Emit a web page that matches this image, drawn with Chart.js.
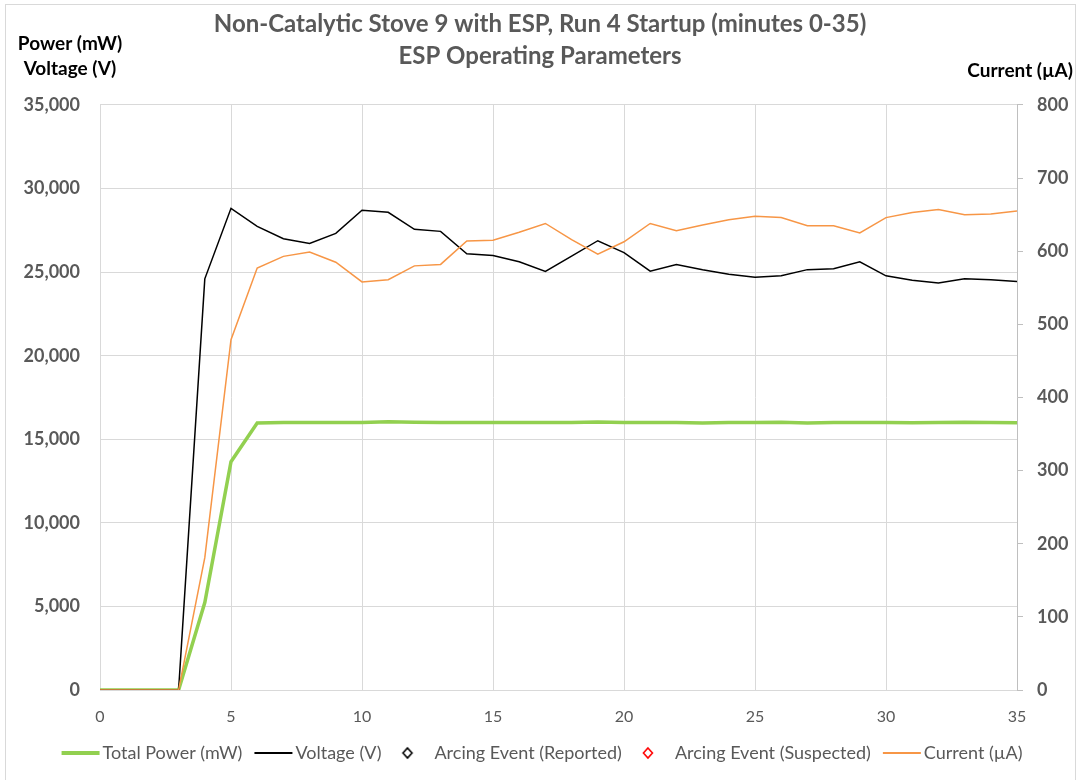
<!DOCTYPE html>
<html>
<head>
<meta charset="utf-8">
<script src="https://cdn.jsdelivr.net/npm/chart.js@4"></script>
<style>
  html, body { margin: 0; padding: 0; background: #fff; }
  #wrap { width: 1080px; height: 780px; position: relative; }
</style>
</head>
<body>
<div id="wrap"><canvas id="espChart" width="1080" height="780"></canvas></div>
<script>
// minutes since startup
var minutes = [0, 1, 2, 3, 4, 5, 6, 7, 8, 9, 10, 11, 12, 13, 14, 15, 16, 17,
    18, 19, 20, 21, 22, 23, 24, 25, 26, 27, 28, 29, 30, 31, 32, 33, 34, 35];

// Total power (mW) - left axis
var totalPower = [0, 0, 0, 0, 5230, 13660, 15980, 16000, 16000, 16000, 16000, 16050,
    16020, 16000, 16010, 16000, 16000, 16010, 16000, 16030, 16010, 16000, 16000, 15980,
    16000, 16000, 16020, 15980, 16010, 16000, 16000, 15990, 16000, 16020, 16000, 15990];

// Voltage (V) - left axis
var voltage = [0, 0, 0, 0, 24600, 28820, 27740, 27000, 26720, 27320, 28700, 28580,
    27560, 27440, 26100, 26000, 25620, 25040, 25960, 26880, 26170, 25060, 25460, 25140,
    24880, 24690, 24780, 25150, 25200, 25620, 24780, 24510, 24350, 24600, 24540, 24440];

// Current (uA) - right axis
var current = [0, 0, 0, 0, 181, 479, 577, 593, 599, 585, 558, 561,
    580, 582, 614, 615, 626, 638, 616, 596, 613, 638, 628, 636,
    643, 648, 646, 635, 635, 625, 646, 653, 657, 650, 651, 655];

// no arcing events in this run
var arcingReported = [];
var arcingSuspected = [];

var titleLines = ['Non-Catalytic Stove 9 with ESP, Run 4 Startup (minutes 0-35)', 'ESP Operating Parameters'];

var FONT = 'Lato, "Open Sans", sans-serif';
var GREY = '#595959';

function xy(ys) {
    return ys.map(function(v, i) { return {x: minutes[i], y: v}; });
}

// little canvases used as legend symbols (line sits to the right so it hugs the text)
function lineIcon(color, w) {
    var c = document.createElement('canvas');
    c.width = 52; c.height = 6;
    var g = c.getContext('2d');
    g.fillStyle = color;
    g.fillRect(12, 3 - w / 2, 38, w);
    return c;
}
function diamondIcon(color) {
    var c = document.createElement('canvas');
    c.width = 14; c.height = 14;
    var g = c.getContext('2d');
    g.strokeStyle = color;
    g.lineWidth = 1.6;
    g.beginPath();
    g.moveTo(7, 2); g.lineTo(11.5, 7); g.lineTo(7, 12); g.lineTo(2.5, 7);
    g.closePath();
    g.stroke();
    return c;
}
var legendIcons = [lineIcon('#92d050', 4), lineIcon('#000000', 2), diamondIcon('#000000'),
    diamondIcon('#ff0000'), lineIcon('#f79646', 2)];

// axis captions and the outer frame
var extras = {
    id: 'extras',
    afterDraw: function(chart) {
        var c = chart.ctx;
        c.save();
        c.strokeStyle = '#d9d9d9';
        c.lineWidth = 1;
        c.strokeRect(5.5, 4.5, 1070, 790);
        c.fillStyle = '#000';
        c.font = 'bold 19px ' + FONT;
        c.textBaseline = 'middle';
        c.textAlign = 'center';
        c.fillText('Power (mW)', 70, 44);
        c.fillText('Voltage (V)', 70, 69);
        c.textAlign = 'right';
        c.fillText('Current (\u00b5A)', 1073, 71);
        c.restore();
    }
};

document.addEventListener('DOMContentLoaded', function() {
    var ctx = document.getElementById('espChart').getContext('2d');

    var config = {
        type: 'line',
        data: {
            datasets: [{
                label: 'Total Power (mW)',
                data: xy(totalPower),
                borderColor: '#92d050',
                backgroundColor: '#92d050',
                borderWidth: 3.5,
                pointRadius: 0,
                yAxisID: 'y',
                order: 3
            }, {
                label: 'Voltage (V)',
                data: xy(voltage),
                borderColor: '#000000',
                backgroundColor: '#000000',
                borderWidth: 1.5,
                pointRadius: 0,
                yAxisID: 'y',
                order: 2
            }, {
                label: 'Arcing Event (Reported)',
                data: arcingReported,
                showLine: false,
                pointStyle: 'rectRot',
                pointRadius: 5,
                borderColor: '#000000',
                backgroundColor: 'rgba(0,0,0,0)',
                yAxisID: 'y'
            }, {
                label: 'Arcing Event (Suspected)',
                data: arcingSuspected,
                showLine: false,
                pointStyle: 'rectRot',
                pointRadius: 5,
                borderColor: '#ff0000',
                backgroundColor: 'rgba(0,0,0,0)',
                yAxisID: 'y'
            }, {
                label: 'Current (\u00b5A)',
                data: xy(current),
                borderColor: '#f79646',
                backgroundColor: '#f79646',
                borderWidth: 1.5,
                pointRadius: 0,
                yAxisID: 'y1',
                order: 1
            }]
        },
        options: {
            responsive: false,
            animation: false,
            layout: { padding: { top: 0, left: 0, right: 0, bottom: 8 } },
            plugins: {
                title: {
                    display: true,
                    text: titleLines,
                    color: GREY,
                    font: { family: FONT, size: 24, weight: 'bold', lineHeight: 1.3333 },
                    padding: { top: 8, bottom: 33 }
                },
                legend: {
                    position: 'bottom',
                    labels: {
                        usePointStyle: true,
                        pointStyleWidth: 36,
                        padding: 8,
                        color: GREY,
                        font: { family: FONT, size: 18 },
                        generateLabels: function(chart) {
                            var items = Chart.defaults.plugins.legend.labels.generateLabels(chart);
                            items.sort(function(a, b) { return a.datasetIndex - b.datasetIndex; });
                            items.forEach(function(it) {
                                it.pointStyle = legendIcons[it.datasetIndex];
                                it.rotation = 0;
                            });
                            return items;
                        }
                    }
                },
                tooltip: { enabled: false }
            },
            scales: {
                x: {
                    type: 'linear',
                    min: 0,
                    max: 35,
                    ticks: { stepSize: 5, padding: 17, color: GREY, font: { family: FONT, size: 16 } },
                    grid: { color: '#d9d9d9', drawTicks: false },
                    border: { color: '#d9d9d9' },
                    afterFit: function(s) { s.height = 46; }
                },
                y: {
                    position: 'left',
                    min: 0,
                    max: 35000,
                    ticks: {
                        stepSize: 5000,
                        padding: 20,
                        color: GREY,
                        font: { family: FONT, size: 18, weight: 'bold' },
                        callback: function(v) { return v.toLocaleString('en-US'); }
                    },
                    grid: { color: '#d9d9d9', drawTicks: false },
                    border: { color: '#d9d9d9' },
                    afterFit: function(s) { s.width = 100; }
                },
                y1: {
                    position: 'right',
                    min: 0,
                    max: 800,
                    ticks: {
                        stepSize: 100,
                        padding: 14,
                        color: GREY,
                        font: { family: FONT, size: 18, weight: 'bold' }
                    },
                    grid: { drawOnChartArea: false, tickLength: 6, color: '#bfbfbf' },
                    border: { color: '#bfbfbf' },
                    afterFit: function(s) { s.width = 63; }
                }
            }
        },
        plugins: [extras]
    };

    new Chart(ctx, config);
});
</script>
</body>
</html>
